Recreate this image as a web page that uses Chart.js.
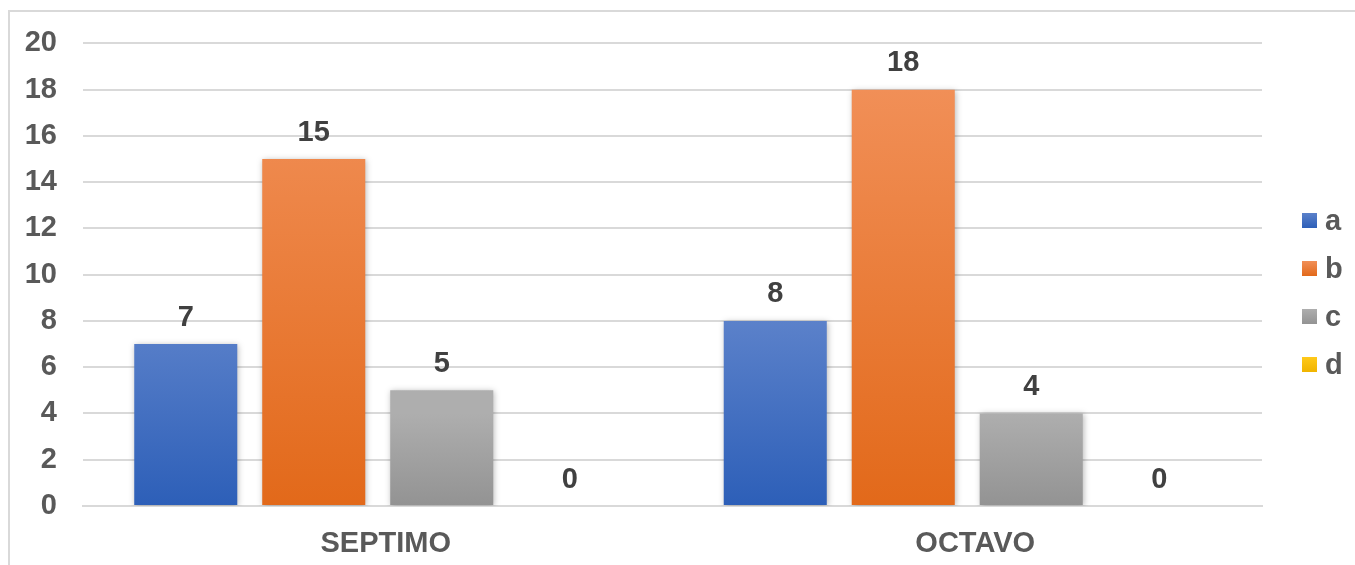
<!DOCTYPE html>
<html>
<head>
<meta charset="utf-8">
<script src="https://cdn.jsdelivr.net/npm/chart.js@4"></script>
<style>
  html, body { margin: 0; padding: 0; background: #ffffff; }
  #wrap { position: relative; width: 1355px; height: 565px; }
  canvas { display: block; }
</style>
</head>
<body>
<div id="wrap"><canvas id="chart" width="1355" height="565"></canvas></div>
<script>
// Grades and answer counts per option
const categories = ['SEPTIMO', 'OCTAVO'];
const seriesNames = ['a', 'b', 'c', 'd'];
const valuesA = [7, 8];
const valuesB = [15, 18];
const valuesC = [5, 4];
const valuesD = [0, 0];
const yTicks = [0, 2, 4, 6, 8, 10, 12, 14, 16, 18, 20];

// Top/bottom colours of each series' vertical gradient
const gradientStops = [
  ['#5b81ca', '#2d5fb8'],
  ['#f18f57', '#e2691a'],
  ['#aeaeae', '#939393'],
  ['#ffc91a', '#f0b400']
];

const GRID = '#d9d9d9';
const TEXT = '#595959';
const LABEL = '#404040';
const FONT = '"Liberation Sans", Arial, sans-serif';
const FONT_SIZE = 29;

// Per-bar gradient fill plus soft shadow
const barStyle = {
  id: 'barStyle',
  beforeDatasetsDraw(chart) {
    const ctx = chart.ctx;
    chart.data.datasets.forEach((ds, i) => {
      const meta = chart.getDatasetMeta(i);
      meta.data.forEach(el => {
        const top = Math.min(el.y, el.base);
        const bottom = Math.max(el.y, el.base);
        const g = ctx.createLinearGradient(0, top, 0, bottom === top ? top + 1 : bottom);
        g.addColorStop(0, gradientStops[i][0]);
        g.addColorStop(1, gradientStops[i][1]);
        el.options.backgroundColor = g;
      });
    });
    ctx.save();
    ctx.shadowColor = 'rgba(0,0,0,0.28)';
    ctx.shadowBlur = 6;
    ctx.shadowOffsetX = 1;
    ctx.shadowOffsetY = 1;
  },
  afterDatasetsDraw(chart) {
    chart.ctx.restore();
  }
};

// Value labels above each bar
const valueLabels = {
  id: 'valueLabels',
  afterDatasetsDraw(chart) {
    const ctx = chart.ctx;
    ctx.save();
    ctx.font = 'bold ' + FONT_SIZE + 'px ' + FONT;
    ctx.fillStyle = LABEL;
    ctx.textAlign = 'center';
    ctx.textBaseline = 'alphabetic';
    chart.data.datasets.forEach((ds, i) => {
      chart.getDatasetMeta(i).data.forEach((el, j) => {
        ctx.fillText(String(ds.data[j]), el.x, el.y - 18.5);
      });
    });
    ctx.restore();
  }
};

// Legend on the right and the frame lines
const sideLegend = {
  id: 'sideLegend',
  afterDraw(chart) {
    const ctx = chart.ctx;
    ctx.save();
    ctx.strokeStyle = GRID;
    ctx.lineWidth = 2;
    ctx.beginPath();
    ctx.moveTo(9, 565);
    ctx.lineTo(9, 11);
    ctx.lineTo(1355, 11);
    ctx.stroke();

    ctx.font = 'bold ' + FONT_SIZE + 'px ' + FONT;
    ctx.textAlign = 'left';
    ctx.textBaseline = 'alphabetic';
    const y0 = 220.5, step = 48;
    chart.data.datasets.forEach((ds, i) => {
      const y = y0 + i * step;
      const g = ctx.createLinearGradient(0, y - 7.5, 0, y + 7.5);
      g.addColorStop(0, gradientStops[i][0]);
      g.addColorStop(1, gradientStops[i][1]);
      ctx.fillStyle = g;
      ctx.fillRect(1302, y - 7.5, 15, 15);
      ctx.fillStyle = TEXT;
      ctx.fillText(ds.label, 1325, y + 9.5);
    });
    ctx.restore();
  }
};

const seriesValues = [valuesA, valuesB, valuesC, valuesD];

new Chart(document.getElementById('chart'), {
  type: 'bar',
  data: {
    labels: categories,
    datasets: seriesNames.map((name, i) => ({
      label: name,
      data: seriesValues[i],
      backgroundColor: gradientStops[i][1],
      borderWidth: 0,
      categoryPercentage: 0.8685,
      barPercentage: 0.805
    }))
  },
  options: {
    responsive: false,
    animation: false,
    layout: { padding: { top: 37, right: 93, left: 0, bottom: 0 } },
    plugins: {
      legend: { display: false },
      tooltip: { enabled: false }
    },
    scales: {
      x: {
        grid: { display: false, drawTicks: false },
        border: { display: true, color: GRID, width: 2 },
        ticks: { color: TEXT, font: { family: FONT, size: FONT_SIZE, weight: 'bold' }, padding: 21, labelOffset: 8 },
        afterFit(scale) { scale.height = 59; }
      },
      y: {
        min: 0,
        max: 20,
        afterBuildTicks(scale) { scale.ticks = yTicks.map(v => ({ value: v })); },
        grid: { color: GRID, lineWidth: 2, drawTicks: false },
        border: { display: false },
        ticks: { color: TEXT, font: { family: FONT, size: FONT_SIZE, weight: 'bold' }, padding: 26 },
        afterFit(scale) { scale.width = 83; }
      }
    }
  },
  plugins: [barStyle, valueLabels, sideLegend]
});
</script>
</body>
</html>
